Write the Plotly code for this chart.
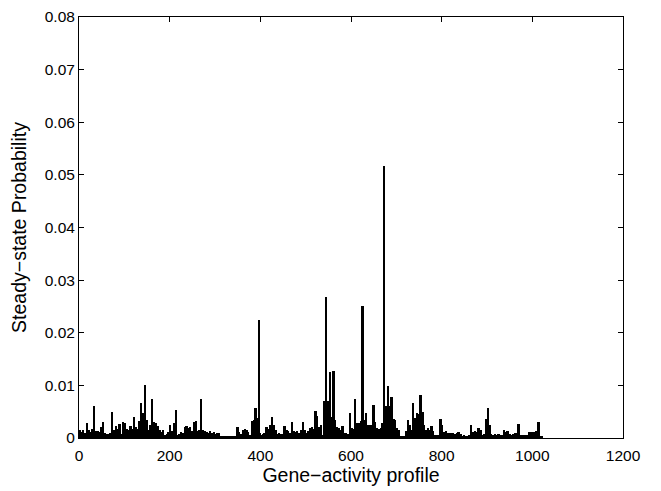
import plotly.graph_objects as go

# Steady-state probability of gene-activity profiles, grouped in bins of 4 consecutive states
# (values in units of 1e-3)
bin_size = 4
prob_milli = [
    # states 0-259
    1.5, 1.2, 1.6, 1.0, 2.8, 1.5, 1.2, 1.8, 6.1, 1.3,
    1.4, 1.1, 2.0, 3.0, 1.0, 0.8, 0.7, 0.9, 5.0, 1.5,
    2.2, 1.8, 2.6, 0.8, 3.0, 2.8, 1.8, 1.5, 2.2, 1.8,
    4.0, 2.0, 1.7, 3.2, 6.7, 4.8, 10.1, 3.5, 1.5, 2.5,
    7.4, 3.0, 2.8, 2.2, 1.5, 1.2, 1.6, 0.6, 0.7, 1.2,
    2.5, 1.4, 2.8, 5.3, 0.6, 0.8, 1.2, 1.0, 2.0, 2.2,
    1.9, 2.1, 1.4, 3.0, 3.2,
    # states 260-515
    1.3, 1.5, 7.4, 1.6, 1.3, 1.2, 1.0, 1.3, 0.9, 1.1,
    0.8, 1.0, 0.9, 0.4, 0.3, 0.4, 0.3, 0.3, 0.4, 0.3,
    0.3, 0.4, 2.1, 1.2, 0.8, 1.6, 1.7, 1.5, 1.2, 0.6,
    3.3, 3.5, 5.7, 3.8, 22.4, 0.6, 0.7, 1.0, 2.0, 1.8,
    2.5, 4.0, 2.5, 1.5, 0.8, 0.9, 0.8, 0.7, 2.2, 1.5,
    1.3, 0.9, 3.0, 1.4, 1.2, 1.3, 1.0, 1.5, 3.1, 1.5,
    0.9, 1.4, 1.9, 2.0,
    # states 516-775
    1.8, 5.1, 4.1, 2.0, 2.5, 0.6, 7.0, 26.8, 7.0, 12.5,
    4.0, 12.8, 3.5, 2.0, 1.9, 1.6, 2.2, 0.9, 1.0, 0.8,
    4.8, 1.9, 1.7, 7.4, 2.8, 2.9, 3.3, 25.1, 3.5, 4.8,
    2.5, 2.5, 2.4, 6.3, 3.0, 1.9, 1.7, 1.9, 2.8, 51.6,
    6.0, 9.8, 6.0, 7.8, 3.6, 3.5, 1.9, 1.6, 0.4, 0.4,
    0.3, 1.3, 3.5, 2.5, 1.5, 6.6, 3.8, 4.8, 4.6, 8.2,
    5.0, 2.5, 1.6, 1.9, 1.5,
    # states 776-1023
    2.2, 1.4, 0.6, 0.6, 0.5, 3.6, 2.4, 1.2, 1.3, 0.9,
    1.0, 0.9, 1.0, 0.8, 0.9, 1.1, 0.8, 0.4, 0.5, 0.4,
    0.3, 0.5, 2.5, 1.2, 1.3, 1.1, 1.9, 1.5, 0.6, 0.7,
    3.6, 5.7, 2.5, 0.7, 0.6, 0.8, 0.6, 0.7, 0.5, 0.6,
    1.6, 1.1, 1.3, 0.8, 0.6, 0.7, 0.9, 1.0, 2.7, 0.6,
    0.6, 0.5, 0.6, 0.5, 1.1, 1.1, 1.2, 1.1, 1.3, 3.0,
    0.4, 0.3,
]

x_ticks = [0, 200, 400, 600, 800, 1000, 1200]
y_ticks = [0, 0.01, 0.02, 0.03, 0.04, 0.05, 0.06, 0.07, 0.08]
y_tick_labels = ["0", "0.01", "0.02", "0.03", "0.04", "0.05", "0.06", "0.07", "0.08"]

centers = [i * bin_size + bin_size / 2 for i in range(len(prob_milli))]
probs = [v * 1e-3 for v in prob_milli]

fig = go.Figure(go.Bar(
    x=centers, y=probs, width=bin_size,
    marker=dict(color="black", line=dict(width=0)),
))

font = "Liberation Sans, Arial, Helvetica, sans-serif"
# page body has an 8px default margin, so the figure is 8px smaller and offset
fig.update_layout(
    width=653, height=483,
    margin=dict(l=71, r=38, t=9, b=53, autoexpand=False),
    paper_bgcolor="white", plot_bgcolor="white",
    showlegend=False, bargap=0,
    font=dict(family=font, size=15.5, color="black"),
)
fig.update_xaxes(
    range=[0, 1200], tickvals=x_ticks, ticktext=[str(t) for t in x_ticks],
    ticks="inside", ticklen=5, tickcolor="black", ticklabelstandoff=3,
    showline=True, linecolor="black", linewidth=1, mirror="ticks",
    showgrid=False, zeroline=False, ticklabeloverflow="allow", automargin=False,
    title=dict(text="Gene\u2212activity profile", font=dict(size=19.5), standoff=2),
)
fig.update_yaxes(
    range=[0, 0.08], tickvals=y_ticks, ticktext=y_tick_labels,
    ticks="inside", ticklen=5, tickcolor="black",
    showline=True, linecolor="black", linewidth=1, mirror="ticks",
    showgrid=False, zeroline=False, ticklabeloverflow="allow", automargin=False,
    title=dict(text="Steady\u2212state Probability", font=dict(size=19.5), standoff=12),
)

fig.write_html("out.html")
